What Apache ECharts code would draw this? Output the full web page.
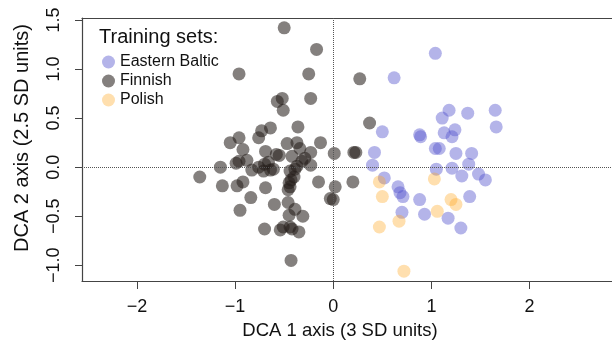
<!DOCTYPE html>
<html>
<head>
<meta charset="utf-8">
<script src="https://cdn.jsdelivr.net/npm/echarts@6/dist/echarts.min.js"></script>
<style>html,body{margin:0;padding:0;background:#fff;}#c{width:612px;height:345px;}</style>
</head>
<body>
<div id="c"></div>
<script>
var xTicks = [-2, -1, 0, 1, 2];
var yTicks = [-1, -0.5, 0, 0.5, 1, 1.5];
var legendTitle = 'Training sets:';
var seriesNames = ['Eastern Baltic', 'Finnish', 'Polish'];

var finnish = [[-0.50,1.42],[-0.17,1.20],[-0.96,0.95],[-0.25,0.95],[-0.52,0.70],[-0.57,0.67],[-0.23,0.70],[-0.51,0.58],[-0.36,0.41],[-0.64,0.40],[-0.73,0.37],[-0.76,0.30],[-0.96,0.30],[-1.05,0.25],[-0.92,0.18],[-0.47,0.24],[-0.37,0.25],[-0.13,0.25],[0.01,0.14],[-0.69,0.16],[-0.58,0.13],[-0.55,0.12],[-0.23,0.15],[-0.88,0.07],[-0.99,0.04],[-0.96,0.06],[-1.15,0.00],[-1.36,-0.10],[-0.83,-0.03],[-0.76,0.00],[-0.71,-0.04],[-0.64,-0.03],[-0.70,0.03],[-0.44,-0.04],[-0.37,0.01],[-0.32,0.06],[-0.23,0.02],[-0.42,0.11],[-0.43,-0.13],[-0.45,-0.16],[-0.40,-0.10],[-0.15,-0.15],[-0.92,-0.15],[-0.98,-0.19],[-1.13,-0.19],[-0.69,-0.21],[-0.84,-0.31],[-0.46,-0.23],[-0.60,-0.38],[-0.46,-0.36],[-0.95,-0.44],[-0.39,-0.43],[-0.31,-0.50],[-0.45,-0.49],[-0.70,-0.63],[-0.54,-0.64],[-0.51,-0.61],[-0.44,-0.61],[-0.42,-0.63],[-0.35,-0.66],[-0.43,-0.95],[-0.03,-0.32],[0.00,-0.33],[0.02,-0.20],[0.27,0.90],[0.37,0.45],[0.21,0.15],[0.23,0.15],[0.20,-0.15],[-0.34,0.19],[-0.29,0.09],[-0.39,-0.02],[-0.44,-0.20],[-0.61,-0.02],[-0.66,0.05]];

var easternBaltic = [[1.04,1.16],[0.62,0.91],[1.18,0.58],[1.37,0.55],[1.65,0.58],[1.66,0.41],[1.11,0.50],[1.24,0.38],[1.13,0.35],[1.21,0.31],[0.88,0.33],[0.89,0.31],[0.50,0.36],[1.04,0.19],[1.08,0.19],[1.25,0.14],[1.41,0.14],[0.42,0.15],[0.40,0.02],[1.05,-0.02],[1.21,-0.01],[1.38,0.03],[1.31,-0.09],[1.48,-0.07],[1.55,-0.13],[0.52,-0.11],[0.66,-0.20],[0.68,-0.26],[0.71,-0.30],[0.88,-0.33],[1.39,-0.30],[0.70,-0.46],[0.93,-0.48],[1.17,-0.52],[1.30,-0.62]];

var polish = [[0.47,-0.15],[1.03,-0.12],[0.50,-0.30],[1.20,-0.33],[1.25,-0.38],[1.06,-0.45],[0.67,-0.55],[0.47,-0.61],[0.72,-1.06]];

function fmtNum(v, d) {
  var s = d ? Number(v).toFixed(d) : String(Math.round(v));
  return s.replace('-', '\u2212');
}

var FONT = '"Liberation Sans", Arial, Helvetica, sans-serif';
var axisColor = '#444';

var chart = echarts.init(document.getElementById('c'), null, {renderer: 'canvas'});
chart.setOption({
  animation: false,
  backgroundColor: '#fff',
  textStyle: {fontFamily: FONT},
  grid: {left: 82, top: 18, right: 0, bottom: 64, containLabel: false},
  title: {
    text: legendTitle, left: 94, top: 22,
    textStyle: {fontFamily: FONT, fontSize: 20, fontWeight: 'normal', color: '#111'}
  },
  legend: {
    data: seriesNames,
    orient: 'vertical', left: 97, top: 49,
    itemWidth: 13, itemHeight: 13, itemGap: 3, icon: 'circle',
    textStyle: {fontFamily: FONT, fontSize: 16, color: '#111', lineHeight: 16, padding: [0,0,0,0]}
  },
  xAxis: [{
    type: 'value', min: -2.56, max: 2.84, position: 'bottom',
    axisLine: {show: true, onZero: false, lineStyle: {color: axisColor, width: 1.2}},
    axisTick: {show: true, length: 8, customValues: xTicks, lineStyle: {color: axisColor}},
    axisLabel: {show: true, customValues: xTicks, margin: 17, fontSize: 18, color: '#111', fontFamily: FONT,
      formatter: function (v) { return fmtNum(v, 0); }},
    splitLine: {show: false}
  }, {
    type: 'value', min: -2.56, max: 2.84, position: 'top',
    axisLine: {show: true, onZero: false, lineStyle: {color: axisColor, width: 1.2}},
    axisTick: {show: false}, axisLabel: {show: false}, splitLine: {show: false}
  }],
  yAxis: [{
    type: 'value', min: -1.16, max: 1.52, position: 'left',
    axisLine: {show: true, onZero: false, lineStyle: {color: axisColor, width: 1.2}},
    axisTick: {show: true, length: 7, customValues: yTicks, lineStyle: {color: axisColor}},
    axisLabel: {show: true, customValues: yTicks, rotate: 90, margin: 19, fontSize: 18, color: '#111', fontFamily: FONT,
      formatter: function (v) { return fmtNum(v, 1); }},
    splitLine: {show: false}
  }],
  graphic: [{
    type: 'text', x: 340, y: 331,
    style: {text: 'DCA 1 axis (3 SD units)', fontFamily: FONT, fontSize: 18.5, fill: '#111', textAlign: 'center', textVerticalAlign: 'middle'}
  }, {
    type: 'text', x: 22, y: 138, rotation: Math.PI / 2,
    style: {text: 'DCA 2 axis (2.5 SD units)', fontFamily: FONT, fontSize: 20, fill: '#111', textAlign: 'center', textVerticalAlign: 'middle'}
  }],
  series: [{
    name: 'Finnish', type: 'scatter', data: finnish, symbolSize: 13,
    itemStyle: {color: 'rgba(35,28,25,0.7)'},
    markLine: {
      silent: true, symbol: ['none', 'none'], label: {show: false},
      lineStyle: {type: 'dotted', color: '#555', width: 1},
      data: [{xAxis: 0}, {yAxis: 0}]
    },
    z: 2
  }, {
    name: 'Eastern Baltic', type: 'scatter', data: easternBaltic, symbolSize: 13,
    itemStyle: {color: 'rgba(85,85,205,0.55)'}, z: 3
  }, {
    name: 'Polish', type: 'scatter', data: polish, symbolSize: 13,
    itemStyle: {color: 'rgba(255,165,30,0.45)'}, z: 4
  }]
});
</script>
</body>
</html>
